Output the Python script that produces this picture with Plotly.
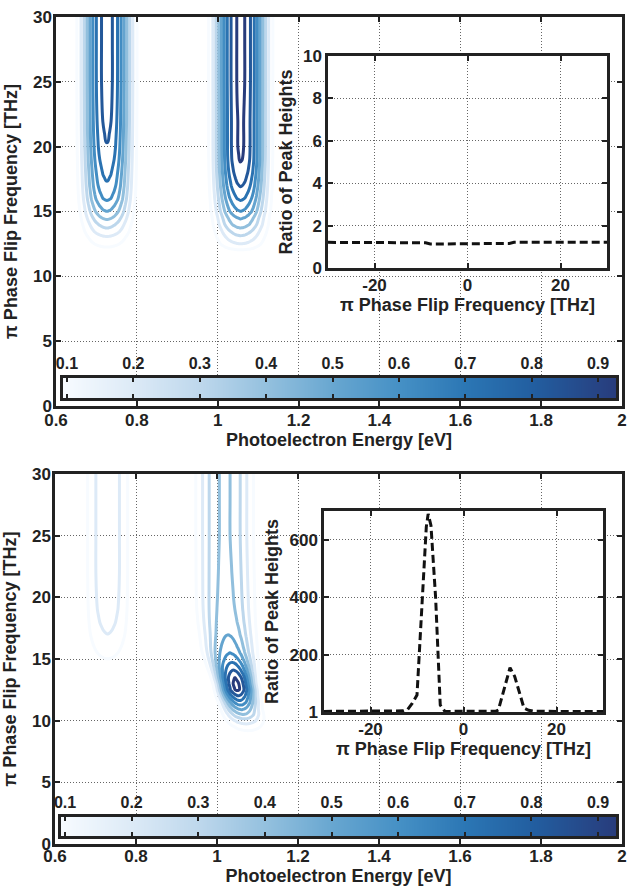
import numpy as np
import plotly.graph_objects as go

# ---------------- data ----------------
E_RANGE = [0.6, 2.0]
F_RANGE = [0, 30]
E_TICKS = [0.6, 0.8, 1.0, 1.2, 1.4, 1.6, 1.8, 2.0]
F_TICKS = [0, 5, 10, 15, 20, 25, 30]
LEVEL_START, LEVEL_END, LEVEL_STEP = 0.1, 0.9, 0.1
CB_RANGE = [0.094, 0.927]
CB_TICKS = [0.1, 0.2, 0.3, 0.4, 0.5, 0.6, 0.7, 0.8, 0.9]

# frequency rows of the contour maps [THz]
F_GRID = [0, 8, 9, 9.5, 10, 10.5, 11, 11.5, 12, 12.5, 13, 13.5, 14, 14.5,
          15, 15.5, 16, 17, 18, 19, 20, 22, 25, 28, 30]

# cross-section shape of a photoelectron peak (offset [eV] -> relative height)
PROFILE_OFFSET = [-0.10, -0.09, -0.08, -0.07, -0.06, -0.05, -0.04, -0.03, -0.02, -0.01, 0.0,
                  0.01, 0.02, 0.03, 0.04, 0.05, 0.06, 0.07, 0.08, 0.09, 0.10]
PROFILE_VALUE = [0.015, 0.04, 0.10, 0.20, 0.34, 0.50, 0.66, 0.80, 0.90, 0.97, 1.0,
                 0.97, 0.90, 0.80, 0.66, 0.50, 0.34, 0.20, 0.10, 0.04, 0.015]

# panel 1 (top): two peaks
P1_PEAK1_CENTER = 0.726
P1_PEAK1_WIDTH = 0.95
P1_PEAK1_AMP = [0, 0, 0, 0, 0, 0, 0.01, 0.03, 0.07, 0.13, 0.19, 0.27, 0.34, 0.42,
                0.50, 0.56, 0.62, 0.69, 0.73, 0.77, 0.80, 0.83, 0.85, 0.85, 0.85]
P1_PEAK2_CENTER = 1.057
P1_PEAK2_WIDTH = 1.0
P1_PEAK2_AMP = [0, 0, 0, 0, 0, 0, 0.02, 0.05, 0.09, 0.20, 0.28, 0.36, 0.45, 0.51,
                0.60, 0.66, 0.72, 0.81, 0.87, 0.91, 0.92, 0.92, 0.93, 0.93, 0.93]

# panel 2 (bottom)
P2_PEAK1_CENTER = 0.730
P2_PEAK1_WIDTH = 0.85
P2_PEAK1_AMP = [0, 0, 0, 0, 0, 0, 0, 0, 0, 0, 0.01, 0.02, 0.04, 0.06,
                0.10, 0.125, 0.15, 0.20, 0.23, 0.25, 0.26, 0.27, 0.27, 0.27, 0.27]
P2_PEAK2_CENTER = [1.08, 1.08, 1.078, 1.075, 1.07, 1.065, 1.06, 1.057, 1.053, 1.05, 1.047,
                   1.044, 1.041, 1.038, 1.035, 1.032, 1.03, 1.027, 1.024, 1.022, 1.021,
                   1.02, 1.019, 1.019, 1.019]
P2_PEAK2_WIDTH = [0.8, 0.8, 0.8, 0.8, 0.8, 0.76, 0.73, 0.72, 0.72, 0.72, 0.72, 0.75, 0.79,
                  0.84, 0.89, 0.93, 0.96, 1.0, 1.03, 1.05, 1.06, 1.06, 1.06, 1.06, 1.06]
P2_PEAK2_AMP = [0, 0, 0.07, 0.15, 0.26, 0.40, 0.53, 0.67, 0.80, 0.92, 0.93, 0.90, 0.82, 0.74,
                0.66, 0.60, 0.56, 0.50, 0.47, 0.45, 0.44, 0.43, 0.42, 0.42, 0.42]

# insets: ratio of peak heights vs pi phase flip frequency
INSET1_X = [-30, -25, -20, -15, -10, -9, -8, -5, 0, 5, 8, 9, 10, 15, 20, 25, 30]
INSET1_Y = [1.21, 1.21, 1.21, 1.21, 1.21, 1.19, 1.13, 1.13, 1.13, 1.13, 1.13, 1.16, 1.21,
            1.21, 1.21, 1.21, 1.21]
INSET2_X = [-30, -25, -20, -15, -13, -12, -11, -10, -9, -8, -7.6, -7, -6, -5, -4, 0, 5,
            7, 7.5, 8, 9, 10, 11, 12, 13, 14, 15, 20, 25, 30]
INSET2_Y = [3, 3, 3, 3, 5, 10, 32, 60, 370, 645, 690, 650, 400, 25, 3, 3, 3,
            4, 8, 37, 93, 155, 125, 70, 15, 7, 4, 3, 3, 3]
INSET1_YRANGE = [0, 10]
INSET1_YTICKS = [0, 2, 4, 6, 8, 10]
INSET2_YRANGE = [1, 700]
INSET2_YTICKS = [1, 200, 400, 600]
INSET_XRANGE = [-30, 30]
INSET_XTICKS = [-20, 0, 20]
INSET_XTICKTEXT = ["-20", "0", "20"]

# ---------------- build contour tables ----------------
E_GRID = np.linspace(E_RANGE[0], E_RANGE[1], 351)


def ridge(centers, widths, amps):
    rows = []
    n = len(F_GRID)
    centers = centers if isinstance(centers, list) else [centers] * n
    widths = widths if isinstance(widths, list) else [widths] * n
    for c, w, a in zip(centers, widths, amps):
        rows.append(a * np.interp((E_GRID - c) / w, PROFILE_OFFSET, PROFILE_VALUE,
                                  left=0, right=0))
    return np.array(rows)


Z1 = ridge(P1_PEAK1_CENTER, P1_PEAK1_WIDTH, P1_PEAK1_AMP) + \
    ridge(P1_PEAK2_CENTER, P1_PEAK2_WIDTH, P1_PEAK2_AMP)
Z2 = ridge(P2_PEAK1_CENTER, P2_PEAK1_WIDTH, P2_PEAK1_AMP) + \
    ridge(P2_PEAK2_CENTER, P2_PEAK2_WIDTH, P2_PEAK2_AMP)

# ---------------- styling ----------------
W, H = 631, 886
FONT = "Liberation Sans"
INK = "#222222"
BLUES = [[0.0, "#f7fbff"], [0.12, "#deebf7"], [0.25, "#bdd7ec"], [0.37, "#93c0de"],
         [0.49, "#67a6d0"], [0.61, "#4590c5"], [0.73, "#2b76b4"], [0.85, "#225ea0"],
         [1.0, "#283c7c"]]


def px_x(a, b):
    return [a / W, b / W]


def px_y(top, bottom):
    return [1 - bottom / H, 1 - top / H]


def tfont(size=17):
    return dict(family=FONT, size=size, color=INK, weight="bold")


def axis_style(**kw):
    d = dict(showline=True, linecolor=INK, linewidth=2.5, mirror="ticks", ticks="inside",
             ticklen=5, tickwidth=1.5, tickcolor=INK, showgrid=True, gridcolor="#666666",
             griddash="1px,2px", gridwidth=1, zeroline=False, tickfont=tfont(17),
             automargin=False)
    d.update(kw)
    return d


fig = go.Figure()

panels = [
    dict(z=Z1, main=("x", "y"), inset=("x2", "y2"), cbar=("x3", "y3"),
         ix=INSET1_X, iy=INSET1_Y),
    dict(z=Z2, main=("x4", "y4"), inset=("x5", "y5"), cbar=("x6", "y6"),
         ix=INSET2_X, iy=INSET2_Y),
]

for p in panels:
    fig.add_trace(go.Contour(
        x=E_GRID, y=F_GRID, z=p["z"], xaxis=p["main"][0], yaxis=p["main"][1],
        contours=dict(start=LEVEL_START, end=LEVEL_END, size=LEVEL_STEP, coloring="lines"),
        line=dict(width=3, smoothing=1), colorscale=BLUES, zauto=False, zmin=-0.15,
        zmax=0.93, showscale=False, hoverinfo="skip"))
    fig.add_trace(go.Heatmap(
        x=CB_RANGE, y=[0.5], z=[CB_RANGE], zsmooth="best", colorscale=BLUES,
        zmin=CB_RANGE[0], zmax=CB_RANGE[1], showscale=False,
        xaxis=p["cbar"][0], yaxis=p["cbar"][1], hoverinfo="skip"))
    fig.add_trace(go.Scatter(
        x=p["ix"], y=p["iy"], mode="lines", xaxis=p["inset"][0], yaxis=p["inset"][1],
        line=dict(color="#111111", width=3, dash="8px,4px"), showlegend=False,
        hoverinfo="skip"))

PI_TITLE = "\u03c0 Phase Flip Frequency [THz]"

layout = dict(
    width=W, height=H, margin=dict(l=0, r=0, t=0, b=0, autoexpand=False),
    paper_bgcolor="white", plot_bgcolor="white", showlegend=False,
    font=dict(family=FONT, color=INK),
)

# main panels
for (xa, ya, xd, yd, tls, tsd) in [
    ("xaxis", "yaxis", px_x(56, 622), px_y(17, 406), -3, 1),
    ("xaxis4", "yaxis4", px_x(55, 622), px_y(474, 844), -5, 3),
]:
    anchor_y = "y" if ya == "yaxis" else "y4"
    anchor_x = "x" if xa == "xaxis" else "x4"
    layout[xa] = axis_style(domain=xd, range=E_RANGE, tickvals=E_TICKS, anchor=anchor_y,
                            ticklabelstandoff=tls,
                            title=dict(text="Photoelectron Energy [eV]", font=tfont(18),
                                       standoff=tsd))
    layout[ya] = axis_style(domain=yd, range=F_RANGE, tickvals=F_TICKS, anchor=anchor_x,
                            ticklabelstandoff=-2,
                            title=dict(text=PI_TITLE, font=tfont(18), standoff=11))

# colorbars (drawn as their own small axes)
for (xa, ya, xd, yd, ax_id, ay_id) in [
    ("xaxis3", "yaxis3", px_x(63, 616), px_y(378, 398), "x3", "y3"),
    ("xaxis6", "yaxis6", px_x(61, 616), px_y(817, 836), "x6", "y6"),
]:
    layout[xa] = dict(domain=xd, range=CB_RANGE, tickvals=CB_TICKS, side="top", anchor=ay_id,
                      showline=True, linecolor=INK, linewidth=2.5, mirror="ticks",
                      ticks="inside", ticklen=4, tickwidth=2, tickcolor=INK,
                      showgrid=False, zeroline=False, tickfont=tfont(16), automargin=False)
    layout[ya] = dict(domain=yd, range=[0, 1], anchor=ax_id, showline=True, linecolor=INK,
                      linewidth=2.5, mirror=True, ticks="", showticklabels=False,
                      showgrid=False, zeroline=False, automargin=False)

# insets
for (xa, ya, xd, yd, yr, yt, ax_id, ay_id, ysd) in [
    ("xaxis2", "yaxis2", px_x(328, 607), px_y(56, 268), INSET1_YRANGE, INSET1_YTICKS,
     "x2", "y2", 6),
    ("xaxis5", "yaxis5", px_x(324, 603), px_y(511, 712), INSET2_YRANGE, INSET2_YTICKS,
     "x5", "y5", 7),
]:
    layout[xa] = axis_style(domain=xd, range=INSET_XRANGE, tickvals=INSET_XTICKS,
                            ticktext=INSET_XTICKTEXT, anchor=ay_id,
                            title=dict(text=PI_TITLE, font=tfont(18), standoff=2))
    layout[ya] = axis_style(domain=yd, range=yr, tickvals=yt, anchor=ax_id,
                            title=dict(text="Ratio of Peak Heights", font=tfont(18),
                                       standoff=ysd))

fig.update_layout(**layout)
fig.write_html("out.html", config={"displayModeBar": False},
               post_script="document.body.style.margin='0';document.body.style.overflow='hidden';")
